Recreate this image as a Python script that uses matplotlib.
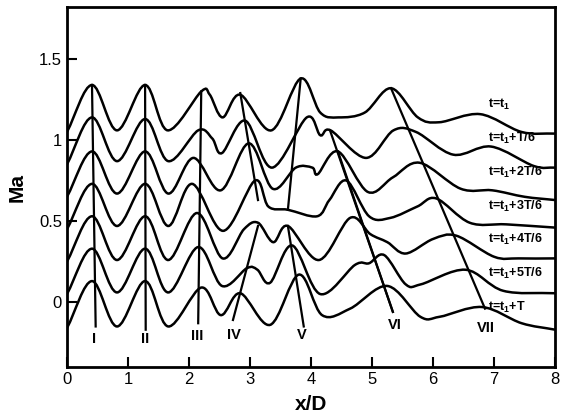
import numpy as np
import matplotlib.pyplot as plt
from matplotlib.path import Path
from matplotlib.patches import PathPatch

plt.rcParams['font.family'] = ['Liberation Sans', 'DejaVu Sans']
plt.rcParams['mathtext.fontset'] = 'custom'
plt.rcParams['mathtext.rm'] = 'Liberation Sans:bold'
plt.rcParams['mathtext.bf'] = 'Liberation Sans:bold'
plt.rcParams['mathtext.default'] = 'bf'

# Ma(x/D) at seven instants, key points (peaks, troughs, shoulders)
x1 = [0, 0.41, 0.82, 1.28, 1.65, 2.2, 2.34, 2.55, 2.84, 3.35, 3.83, 4.15, 4.45, 4.88, 5.31, 5.75, 6.1, 6.77, 7.45, 8]
y1 = [1.05, 1.34, 1.06, 1.34, 1.06, 1.30, 1.28, 1.14, 1.28, 1.06, 1.38, 1.17, 1.14, 1.17, 1.32, 1.14, 1.11, 1.16, 1.05, 1.04]

x2 = [0, 0.41, 0.82, 1.28, 1.66, 2.15, 2.38, 2.54, 2.92, 3.36, 3.93, 4.15, 4.32, 4.9, 5.35, 5.72, 6.33, 6.95, 7.65, 8]
y2 = [0.85, 1.14, 0.87, 1.13, 0.87, 1.06, 1.01, 0.92, 1.12, 0.83, 1.14, 1.03, 1.06, 0.89, 1.06, 1.05, 0.91, 0.96, 0.84, 0.83]

x3 = [0, 0.41, 0.82, 1.28, 1.66, 2.07, 2.52, 2.98, 3.37, 3.75, 4.02, 4.11, 4.44, 4.93, 5.34, 5.78, 6.45, 6.97, 7.5, 8]
y3 = [0.65, 0.93, 0.67, 0.93, 0.67, 0.89, 0.69, 0.98, 0.70, 0.83, 0.83, 0.79, 0.93, 0.68, 0.77, 0.86, 0.70, 0.69, 0.65, 0.63]

x4 = [0, 0.41, 0.82, 1.28, 1.66, 2.05, 2.56, 3.08, 3.3, 3.62, 4.1, 4.3, 4.58, 4.95, 5.3, 5.74, 6.05, 6.6, 7.2, 8]
y4 = [0.45, 0.73, 0.47, 0.73, 0.47, 0.73, 0.44, 0.75, 0.59, 0.57, 0.53, 0.63, 0.75, 0.53, 0.52, 0.59, 0.64, 0.49, 0.48, 0.46]

x5 = [0, 0.41, 0.82, 1.28, 1.66, 2.13, 2.55, 2.9, 3.13, 3.38, 3.62, 4.13, 4.64, 4.97, 5.25, 5.55, 6.0, 6.38, 7.0, 7.4, 8]
y5 = [0.25, 0.53, 0.26, 0.53, 0.26, 0.55, 0.27, 0.45, 0.49, 0.37, 0.47, 0.26, 0.52, 0.42, 0.37, 0.30, 0.39, 0.41, 0.28, 0.27, 0.27]

x6 = [0, 0.41, 0.82, 1.28, 1.66, 2.15, 2.54, 2.95, 3.12, 3.33, 3.69, 4.15, 4.72, 4.95, 5.2, 5.55, 5.8, 6.53, 7.15, 8]
y6 = [0.05, 0.33, 0.06, 0.33, 0.06, 0.34, 0.10, 0.21, 0.20, 0.12, 0.35, 0.05, 0.23, 0.24, 0.29, 0.11, 0.11, 0.20, 0.07, 0.055]

x7 = [0, 0.41, 0.82, 1.28, 1.66, 2.2, 2.52, 2.84, 3.33, 3.8, 4.18, 4.64, 5.25, 5.79, 6.11, 6.8, 7.45, 8]
y7 = [-0.16, 0.13, -0.15, 0.13, -0.15, 0.09, -0.08, 0.055, -0.14, 0.17, -0.08, -0.04, 0.10, -0.09, -0.09, -0.03, -0.13, -0.17]

curves_x = [x1, x2, x3, x4, x5, x6, x7]
curves_y = [y1, y2, y3, y4, y5, y6, y7]

time_labels = ['t=t$_1$', 't=t$_1$+T/6', 't=t$_1$+2T/6', 't=t$_1$+3T/6',
               't=t$_1$+4T/6', 't=t$_1$+5T/6', 't=t$_1$+T']
label_y = [1.22, 1.01, 0.80, 0.59, 0.385, 0.18, -0.03]

# wave-front tracking lines (start x, start y, end x, end y)
fronts = [(0.41, 1.34, 0.47, -0.15),
          (1.28, 1.34, 1.29, -0.17),
          (2.20, 1.30, 2.15, -0.13),
          (2.84, 1.29, 3.13, 0.63),
          (2.72, -0.11, 3.13, 0.47),
          (3.83, 1.38, 3.62, 0.57),
          (3.62, 0.47, 3.88, -0.15),
          (4.31, 1.06, 5.34, -0.06),
          (4.44, 0.93, 5.34, -0.06),
          (5.31, 1.32, 6.85, -0.04)]
roman = ['I', 'II', 'III', 'IV', 'V', 'VI', 'VII']
roman_x = [0.44, 1.28, 2.13, 2.73, 3.85, 5.38, 6.87]
roman_y = [-0.23, -0.23, -0.21, -0.2, -0.2, -0.14, -0.16]


def smooth_path(xs, ys):
    # Catmull-Rom through the read points, drawn as cubic Bezier segments
    p = np.column_stack([xs, ys]).astype(float)
    ext = np.vstack([2 * p[0] - p[1], p, 2 * p[-1] - p[-2]])
    verts = [p[0]]
    codes = [Path.MOVETO]
    for i in range(1, len(ext) - 2):
        c1 = ext[i] + (ext[i + 1] - ext[i - 1]) / 6.0
        c2 = ext[i + 1] - (ext[i + 2] - ext[i]) / 6.0
        verts += [c1, c2, ext[i + 1]]
        codes += [Path.CURVE4] * 3
    return Path(verts, codes)


fig = plt.figure(figsize=(5.71, 4.15), dpi=100)
ax = fig.add_axes([0.1173, 0.1157, 0.855, 0.867])

for xs, ys in zip(curves_x, curves_y):
    ax.add_patch(PathPatch(smooth_path(xs, ys), fill=False, lw=1.8, color='black', capstyle='round'))

for x0, y0, xe, ye in fronts:
    ax.plot([x0, xe], [y0, ye], color='black', lw=1.6)

for r, rx, ry in zip(roman, roman_x, roman_y):
    ax.text(rx, ry, r, fontsize=10.5, fontweight='bold', ha='center', va='center')

for lab, ly in zip(time_labels, label_y):
    ax.text(6.9, ly, lab, fontsize=9, fontweight='bold', ha='left', va='center')

ax.set_xlim(0, 8)
ax.set_ylim(-0.4, 1.82)
ax.set_xticks(range(0, 9))
ax.set_yticks([0, 0.5, 1, 1.5])
ax.set_yticklabels(['0', '0.5', '1', '1.5'])
ax.tick_params(direction='in', length=7, width=1.5, labelsize=12, top=False, right=False)
for s in ax.spines.values():
    s.set_linewidth(2)

ax.set_xlabel('x/D', fontsize=15, fontweight='bold', labelpad=6)
ax.set_ylabel('Ma', fontsize=15, fontweight='bold', labelpad=9)

fig.savefig('out.png', dpi=100)
